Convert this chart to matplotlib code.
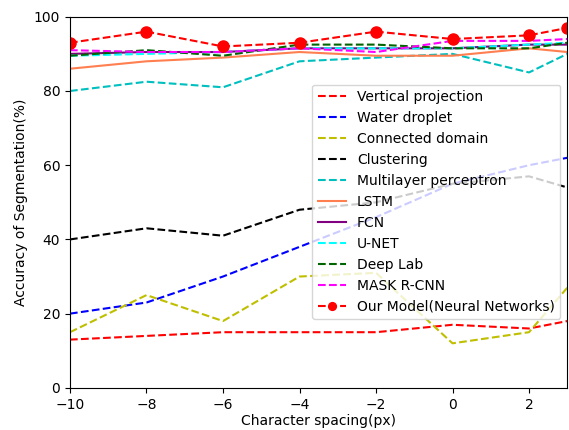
import matplotlib
matplotlib.use('Agg')
import matplotlib.pyplot as plt

x = [-10, -8, -6, -4, -2, 0, 2, 3]

vertical = [13, 14, 15, 15, 15, 17, 16, 18]
droplet = [20, 23, 30, 38, 46, 55, 60, 62]
connected = [15, 25, 18, 30, 31, 12, 15, 27]
clustering = [40, 43, 41, 48, 50, 55, 57, 54]
mlp = [80, 82.5, 81, 88, 89, 90, 85, 90]
lstm = [86, 88, 89, 90.5, 89.5, 89.5, 91.5, 90.5]
fcn = [90, 90.5, 90.5, 91.5, 91.5, 91.5, 92.5, 92.5]
unet = [89.5, 90, 90.5, 91.5, 91.5, 91.5, 92.5, 93]
deeplab = [89.5, 91, 89.5, 92.5, 92.5, 91.5, 91.5, 93]
maskrcnn = [91, 90.5, 90.5, 91.5, 90.5, 93.5, 93.5, 94]
ours = [93, 96, 92, 93, 96, 94, 95, 97]

fig = plt.figure(figsize=(5.69, 4.30), dpi=100)
ax = fig.add_axes([0.123, 0.098, 0.874, 0.863])

ax.plot(x, vertical, 'r--', label='Vertical projection')
ax.plot(x, droplet, 'b--', label='Water droplet')
ax.plot(x, connected, 'y--', label='Connected domain')
ax.plot(x, clustering, 'k--', label='Clustering')
ax.plot(x, mlp, 'c--', label='Multilayer perceptron')
ax.plot(x, lstm, '-', color='coral', label='LSTM')
ax.plot(x, fcn, '-', color='purple', label='FCN')
ax.plot(x, unet, '--', color='cyan', label='U-NET')
ax.plot(x, deeplab, '--', color='darkgreen', label='Deep Lab')
ax.plot(x, maskrcnn, '--', color='magenta', label='MASK R-CNN')
ax.plot(x, ours, 'r--', marker='o', markersize=8, label='Our Model(Neural Networks)')

ax.set_xlim(-10, 3)
ax.set_ylim(0, 100)
ax.set_xticks([-10, -8, -6, -4, -2, 0, 2])
ax.set_xlabel('Character spacing(px)', labelpad=2)
ax.set_ylabel('Accuracy of Segmentation(%)')
ax.legend(loc='upper right', bbox_to_anchor=(1.0, 0.836), fontsize=10,
          markerscale=0.7)

fig.savefig('out.png', dpi=100)
